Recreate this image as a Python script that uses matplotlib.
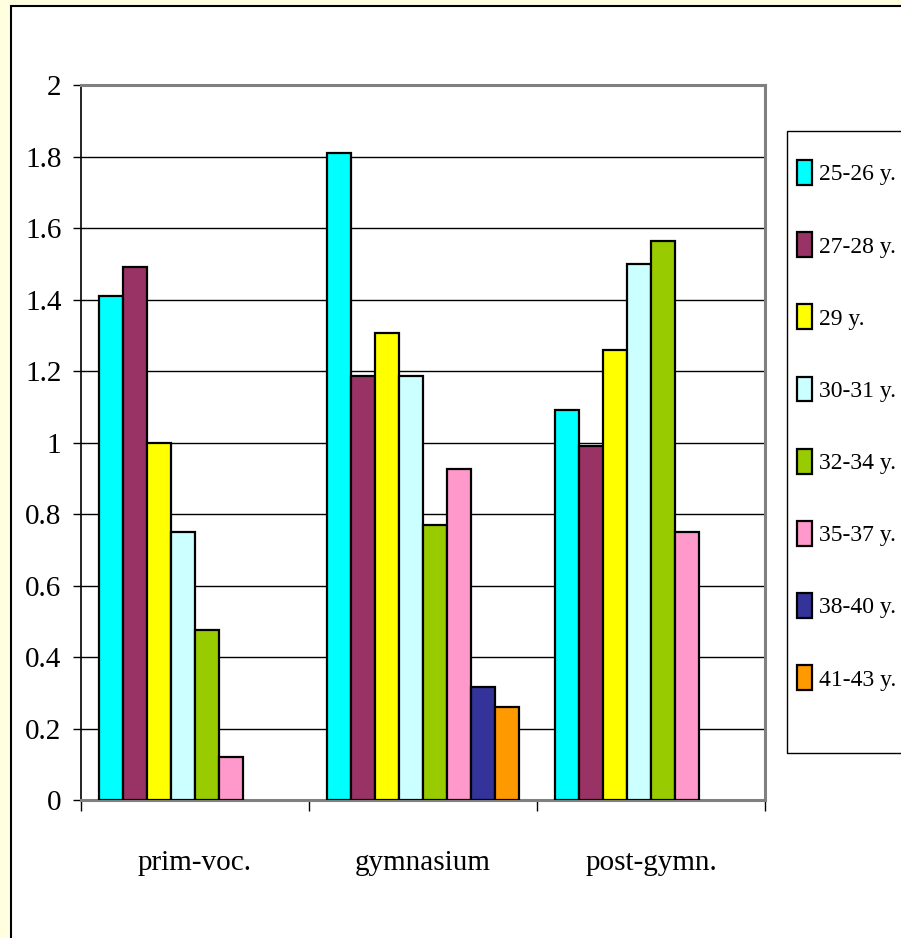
import matplotlib
matplotlib.use("Agg")
import matplotlib.pyplot as plt
import numpy as np
from matplotlib.patches import Rectangle, Patch

categories = ["prim-voc.", "gymnasium", "post-gymn."]
series_labels = ["25-26 y.", "27-28 y.", "29 y.", "30-31 y.", "32-34 y.", "35-37 y.", "38-40 y.", "41-43 y."]
values = {
    "25-26 y.": [1.41, 1.81, 1.09],
    "27-28 y.": [1.49, 1.185, 0.99],
    "29 y.":    [1.00, 1.305, 1.26],
    "30-31 y.": [0.75, 1.185, 1.50],
    "32-34 y.": [0.475, 0.77, 1.565],
    "35-37 y.": [0.12, 0.925, 0.75],
    "38-40 y.": [np.nan, 0.315, np.nan],
    "41-43 y.": [np.nan, 0.26, np.nan],
}
colors = ["#00FFFF", "#993366", "#FFFF00", "#CCFFFF", "#99CC00", "#FF99CC", "#333399", "#FF9900"]
yticks = [0, 0.2, 0.4, 0.6, 0.8, 1, 1.2, 1.4, 1.6, 1.8, 2]
ytick_labels = ["0", "0.2", "0.4", "0.6", "0.8", "1", "1.2", "1.4", "1.6", "1.8", "2"]

plt.rcParams["font.family"] = ["Liberation Serif", "DejaVu Serif"]

W, H = 901, 938
fig = plt.figure(figsize=(W / 100, H / 100), dpi=100, facecolor="#FFFFE0")

# white panel with black border
panel = Rectangle((11 / W, -0.05), 1.2, (H - 6) / H + 0.05, transform=fig.transFigure,
                  facecolor="white", edgecolor="black", linewidth=1.5, zorder=-10)
fig.patches.append(panel)

ax = fig.add_axes([81 / W, (H - 800) / H, (765 - 81) / W, (800 - 85) / H], zorder=1)
ax.set_facecolor("white")

n = len(series_labels)
bw = 24 / 228
gap = 18 / 228
for j, lab in enumerate(series_labels):
    xs = [i + gap + (j + 0.5) * bw for i in range(len(categories))]
    ax.bar(xs, values[lab], width=bw, color=colors[j], edgecolor="black",
           linewidth=1.6, zorder=3, label=lab)

ax.set_xlim(0, 3)
ax.set_ylim(0, 2)
ax.set_yticks(yticks)
ax.set_yticklabels(ytick_labels, fontsize=21)
ax.yaxis.grid(True, color="black", linewidth=1.0, zorder=1)
ax.set_axisbelow(True)

ax.set_xticks([0, 1, 2, 3])
ax.set_xticklabels([])
ax.set_xticks([0.5, 1.5, 2.5], minor=True)
ax.set_xticklabels(categories, minor=True, fontsize=21)
ax.tick_params(axis="x", which="minor", length=0, pad=36)
ax.tick_params(axis="x", which="major", length=8, width=1, color="black", direction="out")
ax.tick_params(axis="y", length=6, width=1, direction="out", pad=8)

for s in ["top", "right", "bottom"]:
    ax.spines[s].set_color("#808080")
    ax.spines[s].set_linewidth(2.2)
ax.spines["left"].set_color("black")
ax.spines["left"].set_linewidth(1.2)

# legend frame drawn separately
frame = Rectangle((787 / W, 1 - 753 / H), 0.5, (753 - 131) / H, transform=fig.transFigure,
                  facecolor="white", edgecolor="black", linewidth=1.0, zorder=4)
fig.patches.append(frame)

handles = [Patch(facecolor=colors[j], edgecolor="black", linewidth=1.6) for j in range(n)]
leg = fig.legend(handles, series_labels, loc="upper left",
                 bbox_to_anchor=(797 / W, 1 - 160 / H), bbox_transform=fig.transFigure,
                 fontsize=17, frameon=False,
                 handlelength=0.62, handleheight=1.25,
                 handletextpad=0.3, labelspacing=1.98, borderpad=0,
                 borderaxespad=0)
leg.set_zorder(5)

fig.savefig("out.png", dpi=100, facecolor=fig.get_facecolor())
